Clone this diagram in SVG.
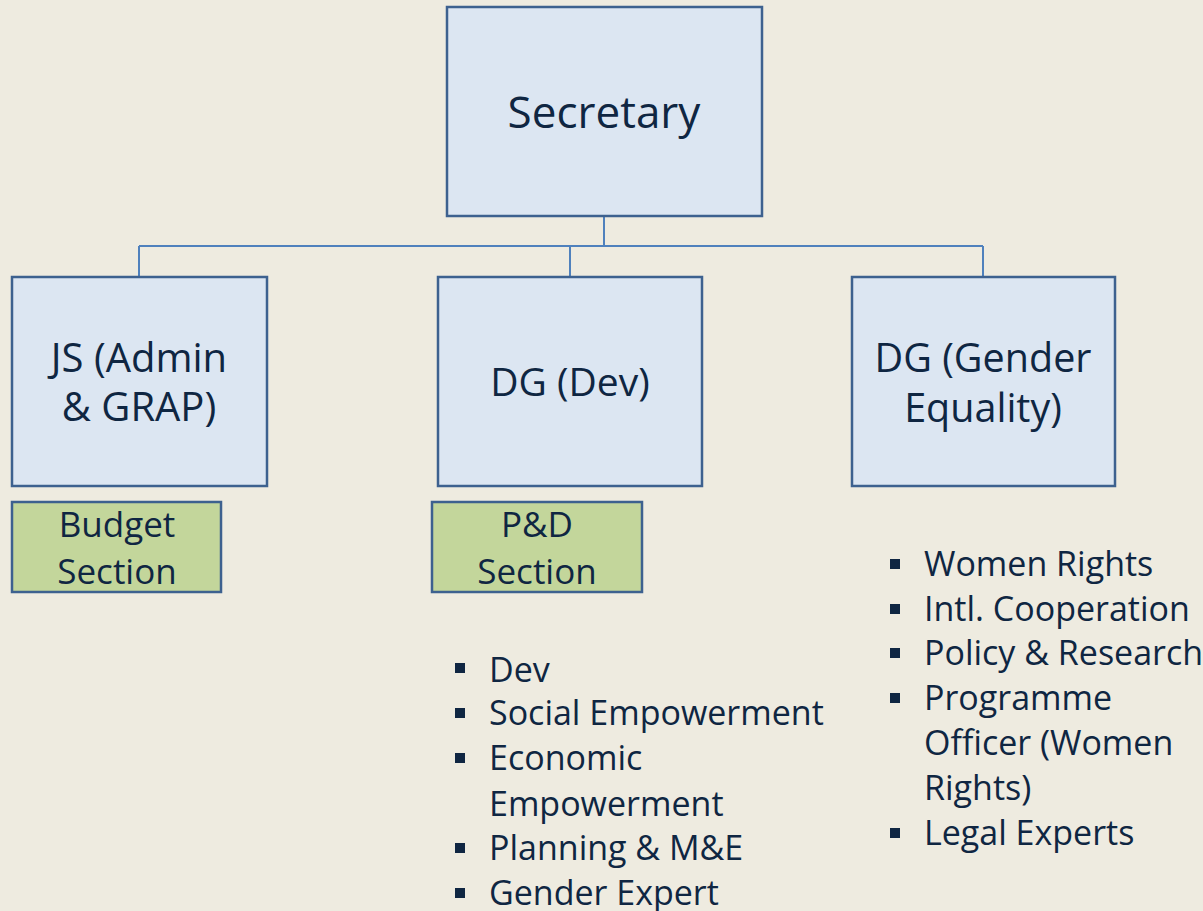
<svg xmlns="http://www.w3.org/2000/svg" width="1203" height="911" viewBox="0 0 1203 911">
<style>
.bg{fill:#eeebe0}
.box{fill:#dce6f2;stroke:#3d618f;stroke-width:2.5}
.sec{fill:#c3d69b;stroke:#3d618f;stroke-width:2.5}
.t{font-family:"Open Sans","Noto Sans",sans-serif;fill:#0f2642;text-anchor:middle}
.l{font-family:"Open Sans","Noto Sans",sans-serif;fill:#0f2642;font-size:34px}
.conn{fill:none;stroke:#4f81bd;stroke-width:2}
.bul{fill:#0f2642}
</style>
<rect class="bg" x="0" y="0" width="1203" height="911"/>
<g id="connectors">
<path class="conn" d="M604 217V246M139 246H983M139 246V277M570 246V277M983 246V277"/>
</g>
<g id="secretary">
<rect class="box" x="447" y="7" width="315" height="209"/>
<text class="t" x="604" y="128" font-size="44">Secretary</text>
</g>
<g id="js">
<rect class="box" x="12" y="277" width="255" height="209"/>
<text class="t" x="139" y="372" font-size="40">JS (Admin</text>
<text class="t" x="139" y="421" font-size="40">&amp; GRAP)</text>
</g>
<g id="dgdev">
<rect class="box" x="438" y="277" width="264" height="209"/>
<text class="t" x="570" y="396" font-size="39">DG (Dev)</text>
</g>
<g id="dggender">
<rect class="box" x="852" y="277" width="263" height="209"/>
<text class="t" x="983" y="372" font-size="39.5">DG (Gender</text>
<text class="t" x="983" y="422" font-size="39.5">Equality)</text>
</g>
<g id="budget">
<rect class="sec" x="12" y="502" width="209" height="90"/>
<text class="t" x="117" y="537" font-size="35">Budget</text>
<text class="t" x="117" y="584" font-size="35">Section</text>
</g>
<g id="pd">
<rect class="sec" x="432" y="502" width="210" height="90"/>
<text class="t" x="537" y="537" font-size="35">P&amp;D</text>
<text class="t" x="537" y="584" font-size="35">Section</text>
</g>
<g id="devlist">
<rect class="bul" x="455" y="663" width="10" height="10"/>
<text class="l" x="489" y="682">Dev</text>
<rect class="bul" x="455" y="708" width="10" height="10"/>
<text class="l" x="489" y="725">Social Empowerment</text>
<rect class="bul" x="455" y="753" width="10" height="10"/>
<text class="l" x="489" y="770">Economic</text>
<text class="l" x="489" y="816">Empowerment</text>
<rect class="bul" x="455" y="843" width="10" height="10"/>
<text class="l" x="489" y="860">Planning &amp; M&amp;E</text>
<rect class="bul" x="455" y="888" width="10" height="10"/>
<text class="l" x="489" y="905">Gender Expert</text>
</g>
<g id="genderlist">
<rect class="bul" x="890" y="559" width="10" height="10"/>
<text class="l" x="924" y="576">Women Rights</text>
<rect class="bul" x="890" y="604" width="10" height="10"/>
<text class="l" x="924" y="621">Intl. Cooperation</text>
<rect class="bul" x="890" y="648" width="10" height="10"/>
<text class="l" x="924" y="665">Policy &amp; Research</text>
<rect class="bul" x="890" y="693" width="10" height="10"/>
<text class="l" x="924" y="710">Programme</text>
<text class="l" x="924" y="755">Officer (Women</text>
<text class="l" x="924" y="800">Rights)</text>
<rect class="bul" x="890" y="828" width="10" height="10"/>
<text class="l" x="924" y="845">Legal Experts</text>
</g>
</svg>
